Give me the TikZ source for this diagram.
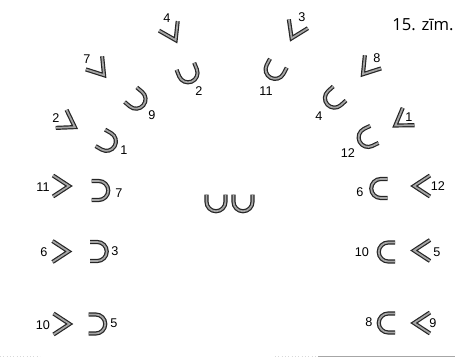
\documentclass[tikz,border=0pt]{standalone}
\usepackage{fontspec}
\setmainfont{Liberation Sans}
\newfontfamily\capfont{Open Sans}
\tikzset{
  ink/.style={draw=black!85,double=gray!70,line width=0.9pt,double distance=1.3pt,line join=miter},
  chev/.pic={\draw[ink] (-8,10.5) -- (8,0) -- (-8,-10.5);},
  shoe/.pic={\draw[ink] (8.25,9.5) -- (1.25,9.5) arc[start angle=90,end angle=270,radius=9.5] -- (8.25,-9.5);},
  num/.style={inner sep=0pt,font=\fontsize{9.5}{10}\selectfont}
}
\begin{document}
\begin{tikzpicture}[x=0.75pt,y=0.75pt]
\path[use as bounding box] (0,0) rectangle (455,358);
\pic (va) at (61,172) {chev};
\pic[rotate=180] (ua) at (100,167.5) {shoe};
\pic (vb) at (60.5,106.5) {chev};
\pic[rotate=180] (ub) at (98.5,106.5) {shoe};
\pic (vc) at (61.5,34) {chev};
\pic[rotate=180] (uc) at (97,34) {shoe};
\pic (ud) at (379.5,169.5) {shoe};
\pic[rotate=180] (vd) at (422,172) {chev};
\pic (ue) at (387,106) {shoe};
\pic[rotate=180] (ve) at (422,107.5) {chev};
\pic (uf) at (387,35) {shoe};
\pic[rotate=180] (vf) at (422,35) {chev};
\pic[rotate=90] (mid1) at (216,155) {shoe};
\pic[rotate=90] (mid2) at (243,155) {shoe};
\pic[rotate=-63] (vg) at (172,325) {chev};
\pic[rotate=112] (ug) at (188.5,284) {shoe};
\pic[rotate=-51] (vh) at (99,289) {chev};
\pic[rotate=140] (uh) at (137,258) {shoe};
\pic[rotate=-31] (vi) at (68,235) {chev};
\pic[rotate=150] (ui) at (107.5,216) {shoe};
\pic[rotate=-115] (vj) at (295,327) {chev};
\pic[rotate=62] (uj) at (274.5,287.5) {shoe};
\pic[rotate=-129] (vk) at (368,290) {chev};
\pic[rotate=42] (uk) at (333.5,259) {shoe};
\pic[rotate=-146] (vl) at (402,237) {chev};
\pic[rotate=26] (ul) at (367,220) {shoe};
\node[num] (la) at (43,171) {11};
\node[num] (lb) at (119,165) {7};
\node[num] (lc) at (44,106) {6};
\node[num] (ld) at (115,107) {3};
\node[num] (le) at (43,33) {10};
\node[num] (lf) at (114,35) {5};
\node[num] (lg) at (360,166) {6};
\node[num] (lh) at (438,172) {12};
\node[num] (li) at (362,106) {10};
\node[num] (lj) at (437,106) {5};
\node[num] (lk) at (369,36) {8};
\node[num] (ll) at (433,35) {9};
\node[num] (lm) at (167,340) {4};
\node[num] (ln) at (199,267) {2};
\node[num] (lo) at (87,299) {7};
\node[num] (lp) at (152,243) {9};
\node[num] (lq) at (56,240) {2};
\node[num] (lr) at (124,208) {1};
\node[num] (ls) at (302,341) {3};
\node[num] (lt) at (266,267) {11};
\node[num] (lu) at (377,300) {8};
\node[num] (lv) at (319,242) {4};
\node[num] (lw) at (409,241) {1};
\node[num] (lx) at (348,205) {12};
\node[inner sep=0pt,font=\capfont\fontsize{12.5}{14}\selectfont] (cap) at (423,333) {15. zīm.};
\draw[gray!30,line width=0.5pt,dotted] (0,1.5) -- (40,1.5);
\draw[gray!30,line width=0.5pt,dotted] (275,1.5) -- (318,1.5);
\draw[gray!70,line width=0.8pt] (318,1.5) -- (455,1.5);
\end{tikzpicture}
\end{document}
